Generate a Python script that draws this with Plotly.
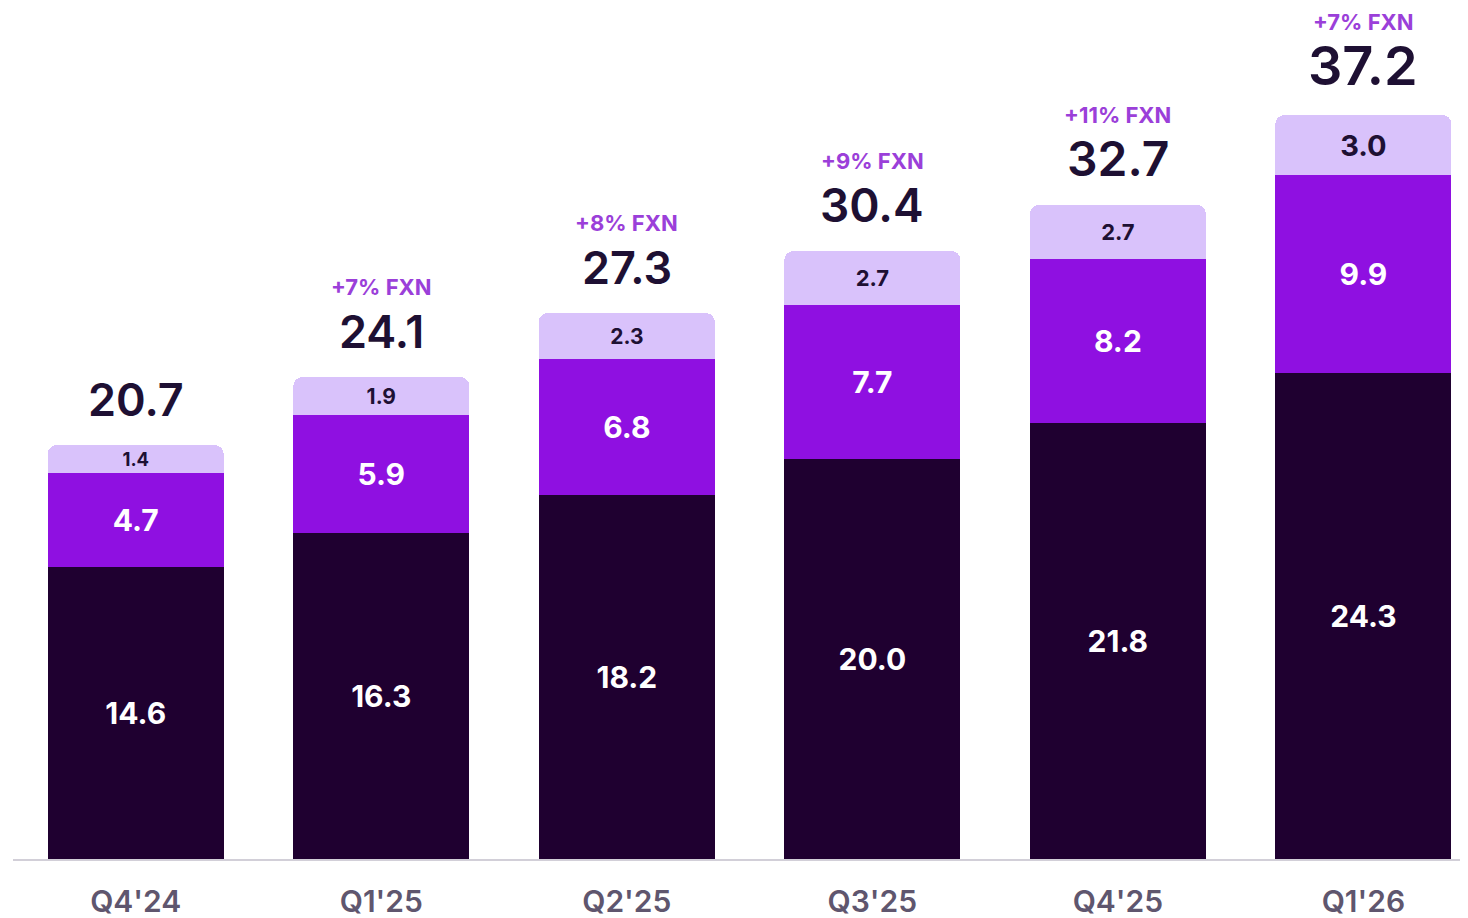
import plotly.graph_objects as go

categories = ["Q4'24", "Q1'25", "Q2'25", "Q3'25", "Q4'25", "Q1'26"]
base_vals = [14.6, 16.3, 18.2, 20.0, 21.8, 24.3]
mid_vals = [4.7, 5.9, 6.8, 7.7, 8.2, 9.9]
top_vals = [1.4, 1.9, 2.3, 2.7, 2.7, 3.0]
totals = [20.7, 24.1, 27.3, 30.4, 32.7, 37.2]
fxn_labels = ["", "+7% FXN", "+8% FXN", "+9% FXN", "+11% FXN", "+7% FXN"]

DARK = "#1f0030"
PURPLE = "#8f10e1"
LIGHT = "#d9c2fb"
TEXT_DARK = "#1e1033"
FXN_COLOR = "#9b3fd9"
FONT = "Inter"

top_sizes = [21, 21, 21, 22, 22, 29]
total_sizes = [45, 45, 45, 46, 48, 54]
total_shift = [46, 46, 46, 46, 47, 50]
fxn_shift = [90, 90, 90, 90, 90, 93]

fig = go.Figure()
fig.add_trace(go.Bar(
    x=categories, y=base_vals, marker=dict(color=DARK, line=dict(width=0)),
    text=[f"{v:.1f}" for v in base_vals], textposition="inside",
    insidetextanchor="middle",
    textfont=dict(family=FONT, size=30, color="white", weight=700),
    hoverinfo="skip",
))
fig.add_trace(go.Bar(
    x=categories, y=mid_vals, marker=dict(color=PURPLE, line=dict(width=0)),
    text=[f"{v:.1f}" for v in mid_vals], textposition="inside",
    insidetextanchor="middle",
    textfont=dict(family=FONT, size=30, color="white", weight=700),
    hoverinfo="skip",
))
fig.add_trace(go.Bar(
    x=categories, y=top_vals, marker=dict(color=LIGHT, line=dict(width=0), cornerradius=9),
    text=[f"{v:.1f}" for v in top_vals], textposition="inside",
    insidetextanchor="middle",
    textfont=dict(family=FONT, size=top_sizes, color=TEXT_DARK, weight=700),
    hoverinfo="skip",
))

annotations = []
for c, t, f, ts, tsh, fsh in zip(categories, totals, fxn_labels, total_sizes, total_shift, fxn_shift):
    annotations.append(dict(
        x=c, y=t, text=f"{t:.1f}", showarrow=False, xanchor="center",
        yanchor="middle", yshift=tsh,
        font=dict(family=FONT, size=ts, color=TEXT_DARK, weight=600),
    ))
    if f:
        annotations.append(dict(
            x=c, y=t, text=f, showarrow=False, xanchor="center",
            yanchor="middle", yshift=fsh,
            font=dict(family=FONT, size=22, color=FXN_COLOR, weight=700),
        ))

fig.update_layout(
    barmode="stack",
    bargap=0.283,
    width=1460, height=910,
    margin=dict(l=5, r=0, t=0, b=59),
    paper_bgcolor="white", plot_bgcolor="white",
    showlegend=False,
    annotations=annotations,
    xaxis=dict(
        type="category", range=[-0.5, 5.426],
        showgrid=False, zeroline=False,
        showline=True, linecolor="#d2cfd8", linewidth=2,
        ticks="", ticklabelstandoff=15,
        tickfont=dict(family=FONT, size=30, color="#5f566e", weight=600),
    ),
    yaxis=dict(
        range=[0, 42.55], visible=False, showgrid=False, zeroline=False,
    ),
)

fig.write_html("out.html")
